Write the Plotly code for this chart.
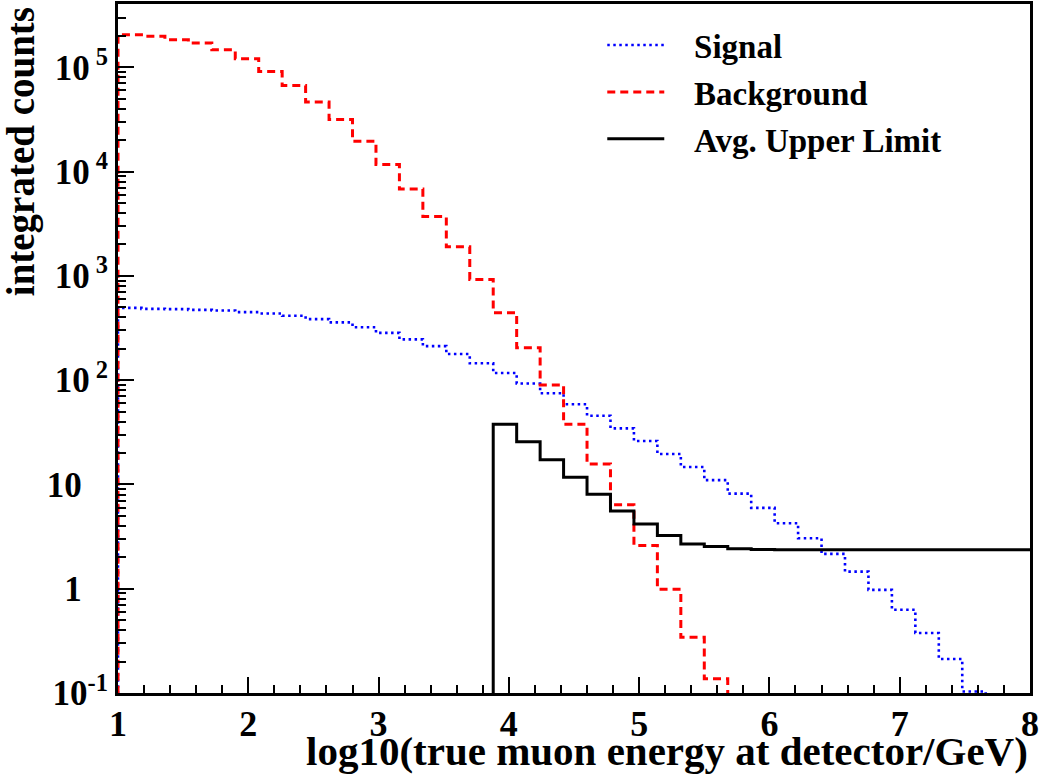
import numpy as np
import plotly.graph_objects as go

# ---- data ----
bin_low = 1.0
bin_width = 0.18
n_bins = 39

signal = [493, 483, 480, 472, 466, 449, 436, 414, 385, 358,
          322, 284, 246, 212, 178, 145, 117, 93, 74.8, 58.7,
          45.6, 34.5, 26.1, 19.6, 14.7, 11.0, 8.17, 5.96, 4.25, 3.05,
          2.16, 1.46, 0.975, 0.628, 0.376, 0.212, 0.1035, 0, 0]

background = [2.05e5, 1.98e5, 1.84e5, 1.71e5, 1.47e5, 1.21e5, 9.1e4, 6.7e4, 4.65e4, 3.15e4,
              1.95e4, 1.17e4, 6.8e3, 3.7e3, 1.9e3, 925, 443, 204, 90, 37.7,
              15.7, 6.4, 2.6, 0.99, 0.343, 0.137, 0, 0, 0, 0,
              0, 0, 0, 0, 0, 0, 0, 0, 0]

upper_limit = [0, 0, 0, 0, 0, 0, 0, 0, 0, 0,
               0, 0, 0, 0, 0, 0, 37.7, 25.7, 17.2, 11.7,
               8.05, 5.57, 4.18, 3.24, 2.69, 2.54, 2.42, 2.38, 2.37, 2.37,
               2.37, 2.37, 2.37, 2.37, 2.37, 2.37, 2.37, 2.37, 2.37]

series_names = ["Signal", "Background", "Avg. Upper Limit"]

y_tickvals = [0.1, 1, 10, 100, 1e3, 1e4, 1e5]
y_ticktext = ["10<sup>-1</sup>", "1&nbsp;&nbsp;&nbsp;", "10&nbsp;&nbsp;&nbsp;",
              "10<sup> 2</sup>", "10<sup> 3</sup>", "10<sup> 4</sup>", "10<sup> 5</sup>"]
x_tickvals = [1, 2, 3, 4, 5, 6, 7, 8]

FLOOR = 1e-4  # empty bins (drawn below the visible range, like ROOT's log scale)

edges = bin_low + bin_width * np.arange(n_bins + 1)


def step_xy(values):
    v = np.array(values, dtype=float)
    v = np.where(v > 0, v, FLOOR)
    x = np.concatenate([[edges[0]], edges[:-1], [edges[-1]], [edges[-1]]])
    y = np.concatenate([[FLOOR], v, [v[-1]], [FLOOR]])
    return x, y


FONT = "Liberation Serif"
PAD = "&nbsp;&nbsp;&nbsp;"

fig = go.Figure()
styles = [
    dict(color="#0000ff", width=2.6, dash="2.5px,3.5px"),
    dict(color="#ff0000", width=3, dash="8px,5px"),
    dict(color="#000000", width=3),
]
for name, vals, st, grp in zip(series_names, [signal, background, upper_limit], styles, ["a", "b", "c"]):
    x, y = step_xy(vals)
    fig.add_trace(go.Scatter(x=x, y=y, mode="lines", name=PAD + name, line=dict(shape="hv", **st),
                             legendgroup=grp, hoverinfo="skip"))

# minor tick positions for log axis
y_minor = [m * 10.0 ** d for d in range(-1, 6) for m in range(2, 10)]

fig.update_layout(
    width=1042, height=776,
    margin=dict(l=118, r=12, t=4, b=83),
    paper_bgcolor="white", plot_bgcolor="white",
    font=dict(family=FONT, size=36, color="black", weight="bold"),
    showlegend=True,
    legend=dict(x=0.531, y=0.981, xanchor="left", yanchor="top",
                bgcolor="rgba(0,0,0,0)", font=dict(family=FONT, size=33, weight="bold"),
                itemwidth=57, tracegroupgap=1, traceorder="grouped"),
    xaxis=dict(range=[1, 8], showgrid=False, zeroline=False, automargin=False,
               showline=True, linecolor="black", linewidth=3, mirror=True,
               ticks="inside", ticklen=16, tickwidth=2, tickcolor="black",
               tickmode="array", tickvals=x_tickvals, ticklabelstandoff=-3,
               tickfont=dict(family=FONT, size=36, weight="bold"),
               minor=dict(ticks="inside", ticklen=8, tickwidth=2, tickcolor="black", dtick=0.2)),
    yaxis=dict(type="log", range=[-1, 5.607], showgrid=False, zeroline=False, automargin=False,
               showline=True, linecolor="black", linewidth=3, mirror=True,
               ticks="inside", ticklen=16, tickwidth=2, tickcolor="black",
               tickmode="array", tickvals=y_tickvals, ticktext=y_ticktext,
               tickfont=dict(family=FONT, size=35, weight="bold"),
               minor=dict(ticks="inside", ticklen=8, tickwidth=2, tickcolor="black",
                          tickmode="array", tickvals=y_minor)),
    annotations=[
        dict(text="log10(true muon energy at detector/GeV)", xref="paper", yref="paper",
             x=1.0, y=-0.121, xanchor="right", yanchor="bottom", showarrow=False,
             font=dict(family=FONT, size=41, weight="bold")),
        dict(text="integrated counts", xref="paper", yref="paper", textangle=-90,
             x=-0.106, y=0.998, xanchor="center", yanchor="top", showarrow=False,
             font=dict(family=FONT, size=39, weight="bold")),
    ],
)

fig.write_html("out.html", config={"displayModeBar": False},
               post_script="document.body.style.margin='0';document.body.style.overflow='hidden';")
